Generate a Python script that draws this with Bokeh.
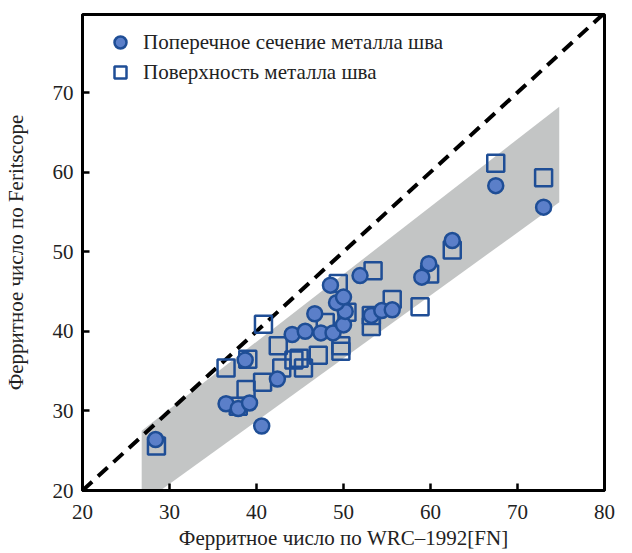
from bokeh.plotting import figure
from bokeh.models import FixedTicker, Range1d, Legend, LegendItem
from bokeh.embed import file_html
from bokeh.resources import INLINE

# Cross-section of weld metal (circles)
cross_x = [28.4, 36.5, 37.9, 39.2, 40.6, 38.7, 42.4, 44.1, 45.6, 47.4, 48.8, 50.0, 50.2,
           46.7, 49.2, 50.0, 48.5, 51.9, 53.2, 54.4, 55.6, 59.0, 59.8, 62.5, 67.5, 73.0]
cross_y = [26.4, 30.9, 30.3, 31.0, 28.1, 36.4, 34.0, 39.6, 40.0, 39.8, 39.8, 40.8, 42.5,
           42.2, 43.6, 44.3, 45.8, 47.0, 42.0, 42.6, 42.7, 46.8, 48.5, 51.4, 58.3, 55.6]

# Weld metal surface (squares)
surf_x = [28.5, 36.5, 37.9, 38.8, 39.0, 40.7, 40.8, 42.5, 42.9, 44.3, 44.9, 45.4, 47.1,
          47.9, 50.4, 49.4, 49.7, 49.7, 53.4, 55.6, 53.2, 53.2, 58.8, 59.9, 62.5, 67.5, 73.0]
surf_y = [25.6, 35.4, 30.6, 32.7, 36.5, 33.6, 40.9, 38.2, 35.4, 36.4, 36.6, 35.4, 37.0,
          41.1, 42.4, 46.0, 38.2, 37.5, 47.6, 44.0, 42.0, 40.6, 43.1, 47.2, 50.2, 61.1, 59.3]

# reference line y = x and the grey scatter band
diag_x = [20, 80]
diag_y = [20, 80]
band_x = [26.8, 74.8, 74.8, 26.8]
band_y = [27.5, 68.2, 56.2, 18.3]

ticks = [20, 30, 40, 50, 60, 70, 80]

FONT = "Liberation Serif"
EDGE = "#1f4e96"
FILL = "#5b7fc9"
TXT = "#222222"

p = figure(width=632, height=553, output_backend="svg", toolbar_location=None,
           x_range=Range1d(20, 80), y_range=Range1d(20, 79.8),
           min_border_left=82, min_border_right=28, min_border_top=14, min_border_bottom=63)

p.patch(band_x, band_y, fill_color="#c3c5c5", line_color=None)
p.line(diag_x, diag_y, line_color="black", line_width=4, line_dash="13 8")

r_sq = p.scatter(surf_x, surf_y, marker="square", size=17, fill_color=None,
                 line_color=EDGE, line_width=2.5)
r_c = p.scatter(cross_x, cross_y, marker="circle", size=15, fill_color=FILL,
                line_color=EDGE, line_width=2.5)

legend = Legend(items=[LegendItem(label="Поперечное сечение металла шва", renderers=[r_c]),
                       LegendItem(label="Поверхность металла шва", renderers=[r_sq])],
                location=(23, 403), margin=0, padding=0, spacing=0,
                glyph_width=30, glyph_height=30, label_standoff=8,
                label_text_font=FONT, label_text_font_size="21px", label_text_color=TXT,
                border_line_alpha=0, background_fill_alpha=0)
p.add_layout(legend, "center")

p.grid.visible = False
p.outline_line_color = "black"
p.outline_line_width = 3

for ax in (p.xaxis[0], p.yaxis[0]):
    ax.ticker = FixedTicker(ticks=ticks)
    ax.minor_tick_line_color = None
    ax.major_tick_in = 7
    ax.major_tick_out = 0
    ax.major_tick_line_width = 2.5
    ax.axis_line_width = 3
    ax.major_label_text_font = FONT
    ax.major_label_text_font_size = "21px"
    ax.major_label_text_color = TXT
    ax.axis_label_text_font = FONT
    ax.axis_label_text_font_size = "21px"
    ax.axis_label_text_font_style = "normal"
    ax.axis_label_text_color = TXT

p.xaxis.axis_label = "Ферритное число по WRC–1992[FN]"
p.yaxis.axis_label = "Ферритное число по Feritscope"
p.xaxis.major_label_standoff = 14
p.xaxis.axis_label_standoff = 4
p.yaxis.major_label_standoff = 9
p.yaxis.axis_label_standoff = 22

open("out.html", "w").write(file_html(p, INLINE))
